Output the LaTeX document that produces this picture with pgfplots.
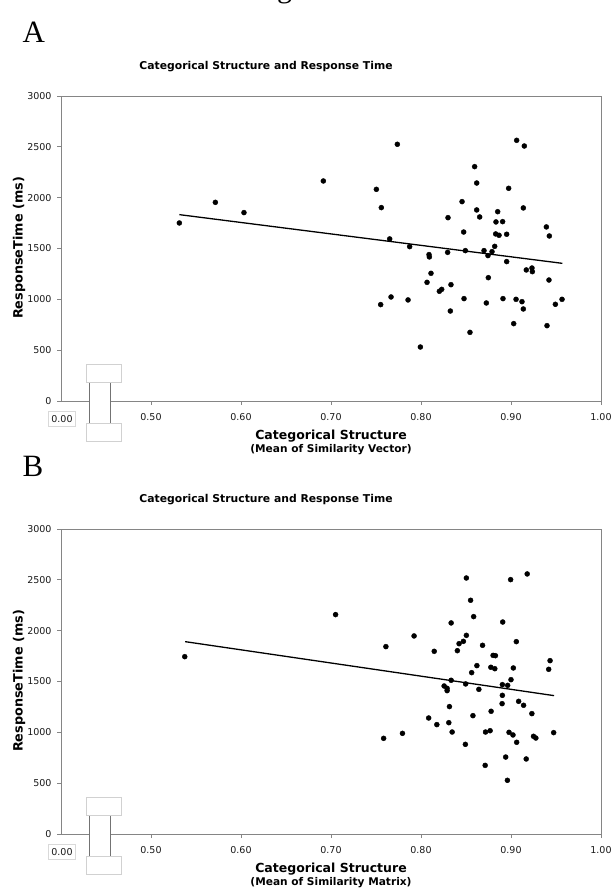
\documentclass[border=0pt]{standalone}
\usepackage{fontspec}
\setmainfont{DejaVu Sans}
\newfontfamily\serifL{Liberation Serif}
\usepackage{pgfplots}
\usepackage{pgfplotstable}
\pgfplotsset{compat=1.18}

\pgfplotstableread{
x y
0.5315 1751
0.5715 1954
0.6033 1853
0.6915 2164
0.7737 2525
0.7504 2082
0.7559 1902
0.7652 1594
0.7874 1518
0.7552 948
0.7667 1023
0.7856 994
0.7993 531
0.8089 1440
0.8093 1417
0.8111 1256
0.8067 1167
0.8204 1079
0.8230 1098
0.8333 1144
0.8300 1803
0.8296 1462
0.8326 885
0.8456 1961
0.8474 1662
0.8493 1479
0.8478 1007
0.8544 675
0.8596 2305
0.8619 2144
0.8619 1879
0.8652 1810
0.8700 1479
0.8744 1430
0.8748 1213
0.8726 964
0.8789 1469
0.8819 1521
0.8833 1761
0.8852 1862
0.8830 1643
0.8867 1630
0.8907 1764
0.8952 1640
0.8911 1007
0.8974 2092
0.8952 1371
0.9030 761
0.9056 1000
0.9063 2564
0.9148 2508
0.9122 977
0.9137 905
0.9137 1899
0.9170 1289
0.9233 1308
0.9237 1272
0.9393 1712
0.9426 1623
0.9422 1190
0.9400 741
0.9493 951
0.9567 1000
}\dataA

\pgfplotstableread{
x y
0.5375 1744
0.7051 2158
0.7610 1843
0.7585 941
0.7794 990
0.7923 1948
0.8085 1141
0.8147 1797
0.8176 1076
0.8257 1456
0.8290 1433
0.8290 1410
0.8309 1095
0.8316 1253
0.8335 2076
0.8335 1512
0.8346 1003
0.8404 1803
0.8423 1872
0.8471 1895
0.8504 2518
0.8504 1954
0.8496 1476
0.8493 882
0.8551 2299
0.8563 1587
0.8577 1164
0.8585 2138
0.8621 1656
0.8643 1423
0.8684 1856
0.8713 675
0.8717 1003
0.8768 1016
0.8779 1207
0.8776 1640
0.8820 1626
0.8801 1757
0.8827 1754
0.8904 1469
0.8904 1364
0.8901 1282
0.8908 2085
0.8941 757
0.8960 528
0.8963 1462
0.8978 1000
0.9000 1518
0.8996 2502
0.9022 974
0.9026 1633
0.9063 902
0.9059 1892
0.9085 1305
0.9140 1266
0.9180 2558
0.9169 738
0.9232 1184
0.9250 961
0.9276 944
0.9419 1620
0.9434 1705
0.9474 997
}\dataB

\pgfplotsset{common/.style={
  scale only axis, width=540pt, height=305pt,
  xmin=0.4, xmax=1.0, ymin=0, ymax=3000,
  xtick={0.5,0.6,0.7,0.8,0.9,1.0},
  xticklabels={0.50,0.60,0.70,0.80,0.90,1.00},
  ytick={0,500,1000,1500,2000,2500,3000},
  yticklabels={0,500,1000,1500,2000,2500,3000},
  tick align=outside, xtick pos=bottom, ytick pos=left,
  major tick length=4pt,
  axis line style={draw=black!48, line width=0.8pt},
  major tick style={draw=black!48, line width=0.8pt},
  tick label style={font=\fontsize{9.5}{11}\selectfont, text=black!90},
  xticklabel style={yshift=-5pt},
  yticklabel style={xshift=-2pt},
  /pgf/number format/assume math mode=true,
  clip=false,
}}

\tikzset{brk/.style={draw=black!18, fill=white, line width=0.6pt}}
\newcommand\breaksym[1]{%
  \fill[white] (89.5pt,#1pt-22pt) rectangle (110.5pt,#1pt+19pt);
  \draw[black!55, line width=0.8pt] (89.5pt,#1pt-22pt) -- (89.5pt,#1pt+19pt);
  \draw[black!55, line width=0.8pt] (110.5pt,#1pt-22pt) -- (110.5pt,#1pt+19pt);
  \draw[brk] (86pt,#1pt+19pt) rectangle (121pt,#1pt+37pt);
  \draw[brk] (86pt,#1pt-40pt) rectangle (121pt,#1pt-22pt);
  \node[draw=black!15, fill=white, line width=0.5pt, inner xsep=3pt, minimum height=15pt,
        font=\fontsize{9.5}{11}\selectfont, text=black!90] at (62pt,#1pt-18pt) {0.00};
}

\begin{document}
\begin{tikzpicture}
\useasboundingbox (0,0) rectangle (614pt,893pt);

% fragment of a caption cut off at the top edge
\node[anchor=base west, inner sep=0pt, font=\serifL\fontsize{30}{32}\selectfont] at (252pt,893pt+2pt) {Figure};

% ---------- Panel A ----------
\node[anchor=base west, font=\serifL\fontsize{31}{33}\selectfont] at (19pt,893pt-43pt) {A};
\node[font=\bfseries\fontsize{10.8}{12}\selectfont] at (266pt,893pt-67pt) {Categorical Structure and Response Time};
\begin{axis}[common, at={(61pt,492pt)}, anchor=south west]
\addplot[only marks, mark=*, mark size=2.5pt, black] table {\dataA};
\addplot[black, line width=1.3pt] coordinates {(0.5315,1833) (0.9570,1354)};
\end{axis}
\breaksym{492}
\node[font=\bfseries\fontsize{12.5}{14}\selectfont] at (331pt,893pt-436pt) {Categorical Structure};
\node[font=\bfseries\fontsize{10.6}{12}\selectfont] at (331pt,893pt-450pt) {(Mean of Similarity Vector)};
\node[rotate=90, font=\bfseries\fontsize{12.8}{14}\selectfont] at (19pt,893pt-248pt) {ResponseTime (ms)};

% ---------- Panel B ----------
\node[anchor=base west, font=\serifL\fontsize{31}{33}\selectfont] at (19pt,893pt-477pt) {B};
\node[font=\bfseries\fontsize{10.8}{12}\selectfont] at (266pt,893pt-500pt) {Categorical Structure and Response Time};
\begin{axis}[common, at={(61pt,59pt)}, anchor=south west]
\addplot[only marks, mark=*, mark size=2.5pt, black] table {\dataB};
\addplot[black, line width=1.3pt] coordinates {(0.5379,1892) (0.9478,1361)};
\end{axis}
\breaksym{59}
\node[font=\bfseries\fontsize{12.5}{14}\selectfont] at (331pt,893pt-869pt) {Categorical Structure};
\node[font=\bfseries\fontsize{10.6}{12}\selectfont] at (331pt,893pt-883pt) {(Mean of Similarity Matrix)};
\node[rotate=90, font=\bfseries\fontsize{12.8}{14}\selectfont] at (19pt,893pt-681pt) {ResponseTime (ms)};
\end{tikzpicture}
\end{document}
